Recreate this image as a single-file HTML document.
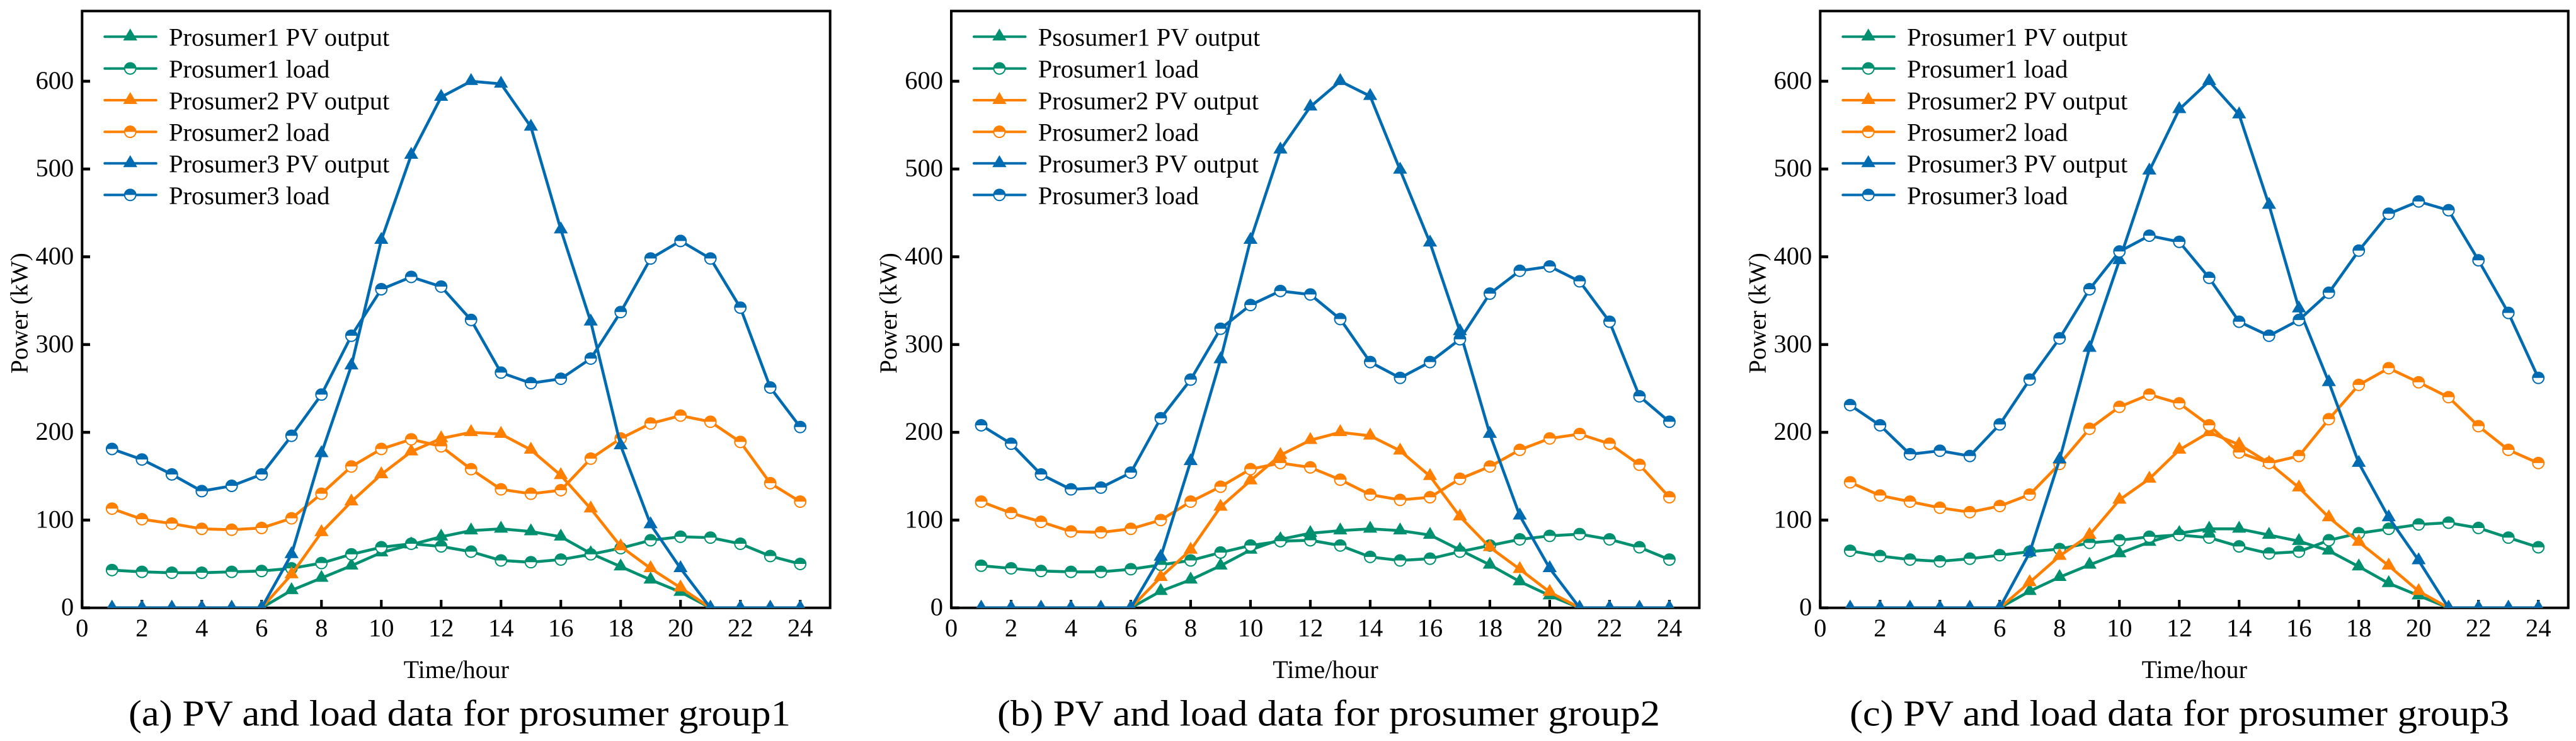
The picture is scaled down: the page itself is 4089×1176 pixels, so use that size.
<!DOCTYPE html>
<html lang="en">
<head>
<meta charset="utf-8">
<title>PV and load data for prosumer groups</title>
<style>
html,body{margin:0;padding:0;background:#fff;}
body{width:4089px;height:1176px;overflow:hidden;}
svg{display:block;}
text{font-family:"Liberation Serif","Times New Roman",serif;fill:#000;}
</style>
</head>
<body>
<svg id="figure" xmlns="http://www.w3.org/2000/svg" width="4089" height="1176" viewBox="0 0 4089 1176"></svg>
<script>
const hours = [1,2,3,4,5,6,7,8,9,10,11,12,13,14,15,16,17,18,19,20,21,22,23,24];
const xTickLabels = [0,2,4,6,8,10,12,14,16,18,20,22,24];
const yTickLabels = [0,100,200,300,400,500,600];
const xMaxValue = 25;
const yMaxValue = 680;

const legendLabelsA = ["Prosumer1 PV output","Prosumer1 load","Prosumer2 PV output","Prosumer2 load","Prosumer3 PV output","Prosumer3 load"];
const legendLabelsB = ["Psosumer1 PV output","Prosumer1 load","Prosumer2 PV output","Prosumer2 load","Prosumer3 PV output","Prosumer3 load"];
const legendLabelsC = ["Prosumer1 PV output","Prosumer1 load","Prosumer2 PV output","Prosumer2 load","Prosumer3 PV output","Prosumer3 load"];

const a_pv1   = [0,0,0,0,0,0,20,34,48,63,72,81,88,90,87,81,62,47,32,18,0,0,0,0];
const a_load1 = [43,41,40,40,41,42,45,51,61,69,73,70,64,54,52,55,61,68,77,81,80,73,59,50];
const a_pv2   = [0,0,0,0,0,0,38,86,121,152,178,193,200,198,180,151,113,70,45,23,0,0,0,0];
const a_load2 = [113,101,96,90,89,91,102,130,161,181,192,184,158,135,130,134,170,193,210,219,212,189,142,121];
const a_pv3   = [0,0,0,0,0,0,61,176,276,419,516,582,600,597,548,431,326,185,95,45,0,0,0,0];
const a_load3 = [181,169,152,133,139,152,196,243,310,363,377,366,328,268,256,261,284,337,398,418,398,342,251,206];

const b_pv1   = [0,0,0,0,0,0,19,32,48,66,78,85,88,90,88,83,66,49,30,14,0,0,0,0];
const b_load1 = [48,45,42,41,41,44,49,54,63,71,76,77,71,58,54,56,64,71,78,82,84,78,69,55];
const b_pv2   = [0,0,0,0,0,0,35,66,115,145,174,191,200,196,179,150,104,69,44,18,0,0,0,0];
const b_load2 = [121,108,98,87,86,90,100,121,138,158,165,160,146,129,123,126,147,161,180,193,198,187,163,126];
const b_pv3   = [0,0,0,0,0,0,58,167,283,419,522,571,600,583,499,416,315,198,105,45,0,0,0,0];
const b_load3 = [208,187,152,135,137,154,216,260,318,345,361,357,329,280,262,280,306,358,384,389,372,326,241,212];

const c_pv1   = [0,0,0,0,0,0,19,35,49,62,75,85,90,90,83,76,65,47,28,14,0,0,0,0];
const c_load1 = [65,59,55,53,56,60,64,67,74,77,81,83,80,70,62,64,77,85,90,95,97,91,80,69];
const c_pv2   = [0,0,0,0,0,0,29,59,83,123,147,180,200,186,165,137,103,75,48,19,0,0,0,0];
const c_load2 = [143,128,121,114,109,116,129,164,204,229,243,233,208,177,165,173,215,254,273,257,240,207,180,165];
const c_pv3   = [0,0,0,0,0,0,63,169,296,396,498,568,600,562,459,341,257,165,103,54,0,0,0,0];
const c_load3 = [231,208,175,179,173,209,260,307,363,406,424,417,376,326,310,328,359,407,449,463,453,396,336,262];

const NS = "http://www.w3.org/2000/svg";
const GREEN = "#009070";
const ORANGE = "#ff8000";
const BLUE = "#006bb0";
const root = document.getElementById("figure");

function mk(parent, tag, attrs, txt) {
  const el = document.createElementNS(NS, tag);
  for (const k in attrs) el.setAttribute(k, attrs[k]);
  if (txt !== undefined) el.textContent = txt;
  parent.appendChild(el);
  return el;
}

function drawTriangle(g, cx, cy, color) {
  const el = mk(g, "path", {d:"M"+cx+" "+(cy-13)+"L"+(cx+11.2)+" "+(cy+6)+"L"+(cx-11.2)+" "+(cy+6)+"Z", fill:color});
  
  
}

function drawHalfCircle(g, cx, cy, color) {
  const m = mk(g, "g", {});
  
  
  mk(m, "circle", {cx:cx, cy:cy, r:8.9, fill:"#fff", stroke:color, "stroke-width":2});
  mk(m, "path", {d:"M"+(cx-9.9)+" "+cy+"A9.9 9.9 0 0 1 "+(cx+9.9)+" "+cy+"Z", fill:color});
}

function drawPanel(id, left, captionText, captionX, captionW, legendLabels, seriesList) {
  const right = left + 1187.4, top = 17.5, bottom = 964.7;
  const xs = v => left + (v / xMaxValue) * (right - left);
  const ys = v => bottom - (v / yMaxValue) * (bottom - top);
  const panel = mk(root, "g", {});
  
  

  const clip = mk(panel, "clipPath", {id:"clip-" + id});
  mk(clip, "rect", {x:left, y:top, width:right-left, height:bottom-top});

  const frame = mk(panel, "rect", {x:left, y:top, width:right-left, height:bottom-top, fill:"none", stroke:"#000", "stroke-width":4});
  
  

  xTickLabels.forEach(t => {
    const tick = mk(panel, "line", {x1:xs(t), x2:xs(t), y1:bottom, y2:bottom-12.7, stroke:"#000", "stroke-width":4.2});
    
    
    const lab = mk(panel, "text", {x:xs(t), y:1010, "font-size":40.5, "text-anchor":"middle"}, String(t));
    
    
  });
  yTickLabels.forEach(t => {
    const tick = mk(panel, "line", {x1:left, x2:left+12.7, y1:ys(t), y2:ys(t), stroke:"#000", "stroke-width":4.6});
    
    
    const lab = mk(panel, "text", {x:left-13, y:ys(t)+12, "font-size":40.5, "text-anchor":"end"}, String(t));
    
    
  });

  const yTitle = mk(panel, "text", {transform:"translate("+(left-87)+" 497) rotate(-90)", "font-size":39, "text-anchor":"middle"}, "Power (kW)");
  
  
  const xTitle = mk(panel, "text", {x:left+594, y:1076, "font-size":40, "text-anchor":"middle"}, "Time/hour");
  
  
  const cap = mk(panel, "text", {x:captionX, y:1151.7, "font-size":58, textLength:captionW, lengthAdjust:"spacingAndGlyphs"}, captionText);
  
  

  const plot = mk(panel, "g", {"clip-path":"url(#clip-" + id + ")"});
  
  
  seriesList.forEach((s, i) => {
    const g = mk(plot, "g", {});
    
    
    const pts = s.values.map((v, k) => xs(hours[k]).toFixed(2) + "," + ys(v).toFixed(2)).join(" ");
    const line = mk(g, "polyline", {points:pts, fill:"none", stroke:s.color, "stroke-width":4.6, "stroke-linejoin":"round"});
    
    
    s.values.forEach((v, k) => {
      if (s.kind === "tri") drawTriangle(g, xs(hours[k]), ys(v), s.color);
      else drawHalfCircle(g, xs(hours[k]), ys(v), s.color);
    });
  });

  const legend = mk(panel, "g", {});
  
  
  const legendYs = [58.3, 108.7, 159, 209.2, 259.2, 309.4];
  seriesList.forEach((s, i) => {
    const ly = legendYs[i];
    const entry = mk(legend, "g", {});
    
    
    mk(entry, "line", {x1:left+36, x2:left+117.5, y1:ly, y2:ly, stroke:s.color, "stroke-width":4, "stroke-linecap":"round"});
    if (s.kind === "tri") drawTriangle(entry, left+76.4, ly, s.color);
    else drawHalfCircle(entry, left+76.4, ly, s.color);
    mk(entry, "text", {x:left+137.7, y:ly+14.4, "font-size":40.5}, legendLabels[i]);
  });
}

function seriesOf(pv1, load1, pv2, load2, pv3, load3) {
  return [
    {values:pv1, color:GREEN, kind:"tri"},
    {values:load1, color:GREEN, kind:"circ"},
    {values:pv2, color:ORANGE, kind:"tri"},
    {values:load2, color:ORANGE, kind:"circ"},
    {values:pv3, color:BLUE, kind:"tri"},
    {values:load3, color:BLUE, kind:"circ"}
  ];
}

drawPanel("a", 130.3, "(a) PV and load data for prosumer group1", 204, 1051, legendLabelsA, seriesOf(a_pv1,a_load1,a_pv2,a_load2,a_pv3,a_load3));
drawPanel("b", 1510, "(b) PV and load data for prosumer group2", 1583, 1052, legendLabelsB, seriesOf(b_pv1,b_load1,b_pv2,b_load2,b_pv3,b_load3));
drawPanel("c", 2889.3, "(c) PV and load data for prosumer group3", 2936, 1047, legendLabelsC, seriesOf(c_pv1,c_load1,c_pv2,c_load2,c_pv3,c_load3));
</script>
</body>
</html>
